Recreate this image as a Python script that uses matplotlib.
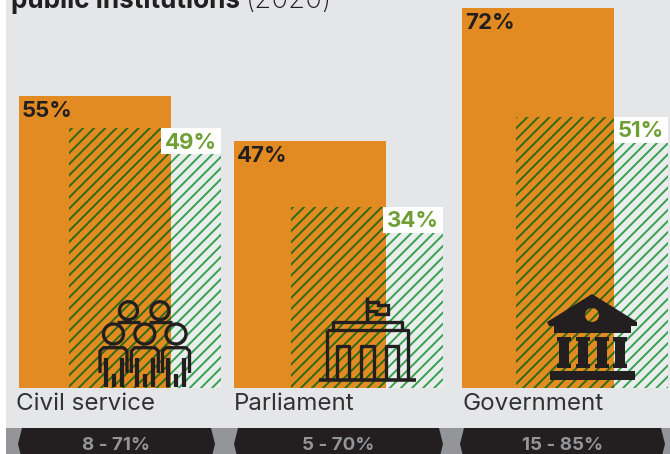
import matplotlib
matplotlib.use("Agg")
import matplotlib.pyplot as plt
from matplotlib.patches import Circle, Polygon, Rectangle, PathPatch
from matplotlib.path import Path

categorias = ["Civil service", "Parliament", "Government"]
# alturas; os rotulos mostram o valor arredondado
laranja = [55.2, 46.7, 71.8]
verde = [49.1, 34.2, 51.2]
faixas = ["8 - 71%", "5 - 70%", "15 - 85%"]

# posicoes das barras em pixels da figura
x_laranja = [19, 234, 462]
x_verde = [69, 291, 516]
largura = 152
x_hex = [(18, 215), (234, 443), (460, 665)]

FUNDO = "#e5e6e8"
LARANJA = "#e18b22"
VERDE = "#38a052"
VERDE_ESCURO = "#2f6a12"
VERDE_TXT = "#6f9f35"
PRETO = "#231f20"
CINZA = "#939598"

plt.rcParams["font.family"] = ["Inter", "DejaVu Sans"]
plt.rcParams["hatch.linewidth"] = 1.4

fig = plt.figure(figsize=(6.7, 4.54), dpi=100, facecolor="white")

# eixo em pixels para fundo, faixa e icones
px = fig.add_axes([0, 0, 1, 1], zorder=1)
px.set_xlim(0, 670)
px.set_ylim(454, 0)
px.axis("off")
px.add_patch(Rectangle((6, 0), 664, 428, fc=FUNDO, ec="none"))
px.add_patch(Rectangle((6, 428), 664, 26, fc=CINZA, ec="none"))

# eixo das barras: y em porcentagem
ESCALA = 5.29
BASE = 388
ax = fig.add_axes([0, 0, 1, 1], zorder=2)
ax.set_xlim(0, 670)
ax.set_ylim((BASE - 454) / ESCALA, BASE / ESCALA)
ax.axis("off")
ax.patch.set_alpha(0)

ax.bar(x_laranja, laranja, width=largura, align="edge", color=LARANJA, linewidth=0)
ax.bar(x_verde, verde, width=largura, align="edge", facecolor="#e9edeb",
       edgecolor=VERDE, hatch="///", linewidth=0)
for xl, xv, v in zip(x_laranja, x_verde, verde):
    ax.bar(xv, v, width=xl + largura - xv, align="edge", facecolor=LARANJA,
           edgecolor=VERDE_ESCURO, hatch="///", linewidth=0)

for xl, v in zip(x_laranja, laranja):
    ax.text(xl + 3, v - 2.8, f"{v:.0f}%", fontsize=16, fontweight="bold", color=PRETO,
            va="center", ha="left")

for xl, xv, v in zip(x_laranja, x_verde, verde):
    dir_verde = xv + largura
    esq_caixa = max(xl + largura - 10, dir_verde - 60) if xl < 400 else xl + largura
    ax.add_patch(Rectangle((esq_caixa, v - 4.9), dir_verde - esq_caixa, 4.9,
                           fc="white", ec="none", zorder=3))
    ax.text((esq_caixa + dir_verde) / 2, v - 2.7, f"{v:.0f}%", fontsize=16, fontweight="bold",
            color=VERDE_TXT, va="center", ha="center", zorder=4)

# icones e textos por cima
top = fig.add_axes([0, 0, 1, 1], zorder=3)
top.set_xlim(0, 670)
top.set_ylim(454, 0)
top.axis("off")
top.patch.set_alpha(0)


def linha(xs, ys, lw=3.3):
    top.plot(xs, ys, color=PRETO, lw=lw * 0.72, solid_capstyle="butt", solid_joinstyle="round")


# pessoas
for cx in [128.5, 160]:
    top.add_patch(Circle((cx, 310.7), 9, fc="none", ec=PRETO, lw=2.4))
    linha([cx - 11.5, cx + 11.5], [321.7, 321.7])
for cx in [113.5, 144.8, 176]:
    top.add_patch(Circle((cx, 334), 10, fc="none", ec=PRETO, lw=2.4))
    linha([cx - 13.5, cx - 13.5, cx - 10, cx + 10, cx + 13.5, cx + 13.5],
          [373, 351, 347.7, 347.7, 351, 373])
    linha([cx - 8, cx - 8], [358, 387], 4.2)
    linha([cx, cx], [374, 387], 4.2)
    linha([cx + 8, cx + 8], [358, 387], 4.2)

# parlamento
linha([367, 367], [297, 322], 3.4)
top.add_patch(Polygon([(367, 302), (378, 302), (378, 305), (388, 305), (388, 314),
                       (376, 314), (376, 311), (367, 311)], fc="none", ec=PRETO, lw=2.4))
linha([333, 333, 402, 402], [330, 322, 322, 330])
linha([327, 327], [380, 330])
linha([327, 408, 408], [330, 330, 380])
linha([319, 416], [380, 380], 3.6)
for a, b in [(337, 349), (361, 374), (386, 398)]:
    linha([a, a, b, b], [380, 346, 346, 380])

# governo
telhado = [(592, 294), (547, 322), (549, 326), (554, 326), (554, 333), (631, 333),
           (631, 326), (637, 326), (637, 322), (592, 294)]
furo = Path.circle((592, 315), 7)
cod = [Path.MOVETO] + [Path.LINETO] * (len(telhado) - 2) + [Path.CLOSEPOLY]
verts = list(telhado) + [tuple(p) for p in furo.vertices]
top.add_patch(PathPatch(Path(verts, cod + list(furo.codes)), fc=PRETO, ec="none"))
for cx in [564, 582.5, 601.5, 620]:
    top.add_patch(Rectangle((cx - 7, 337), 14, 4, fc=PRETO, ec="none"))
    top.add_patch(Rectangle((cx - 5, 337), 10, 30, fc=PRETO, ec="none"))
    top.add_patch(Rectangle((cx - 7, 364), 14, 3.5, fc=PRETO, ec="none"))
top.add_patch(Rectangle((550, 371), 85, 9, fc=PRETO, ec="none"))

# nomes das categorias
for xt, nome in zip([16, 234, 462], categorias):
    top.text(xt, 404, nome, fontsize=17.4, color="#333132", va="center", ha="left")

# faixa de baixo
for (a, b), rot in zip(x_hex, faixas):
    top.add_patch(Polygon([(a + 4, 428), (b - 4, 428), (b, 444), (b - 4, 460),
                           (a + 4, 460), (a, 444)], fc=PRETO, ec="none"))
    top.text((a + b) / 2, 445, rot, fontsize=13.5, fontweight="bold", color=CINZA,
             va="center", ha="center")

# titulo cortado no topo
top.text(11, 8, "public institutions", fontsize=18.8, fontweight="bold", color=PRETO,
         va="baseline", ha="left")
top.text(246, 8, "(2020)", fontsize=20, fontweight="light", color=PRETO, va="baseline", ha="left")

fig.savefig("out.png", dpi=100)
